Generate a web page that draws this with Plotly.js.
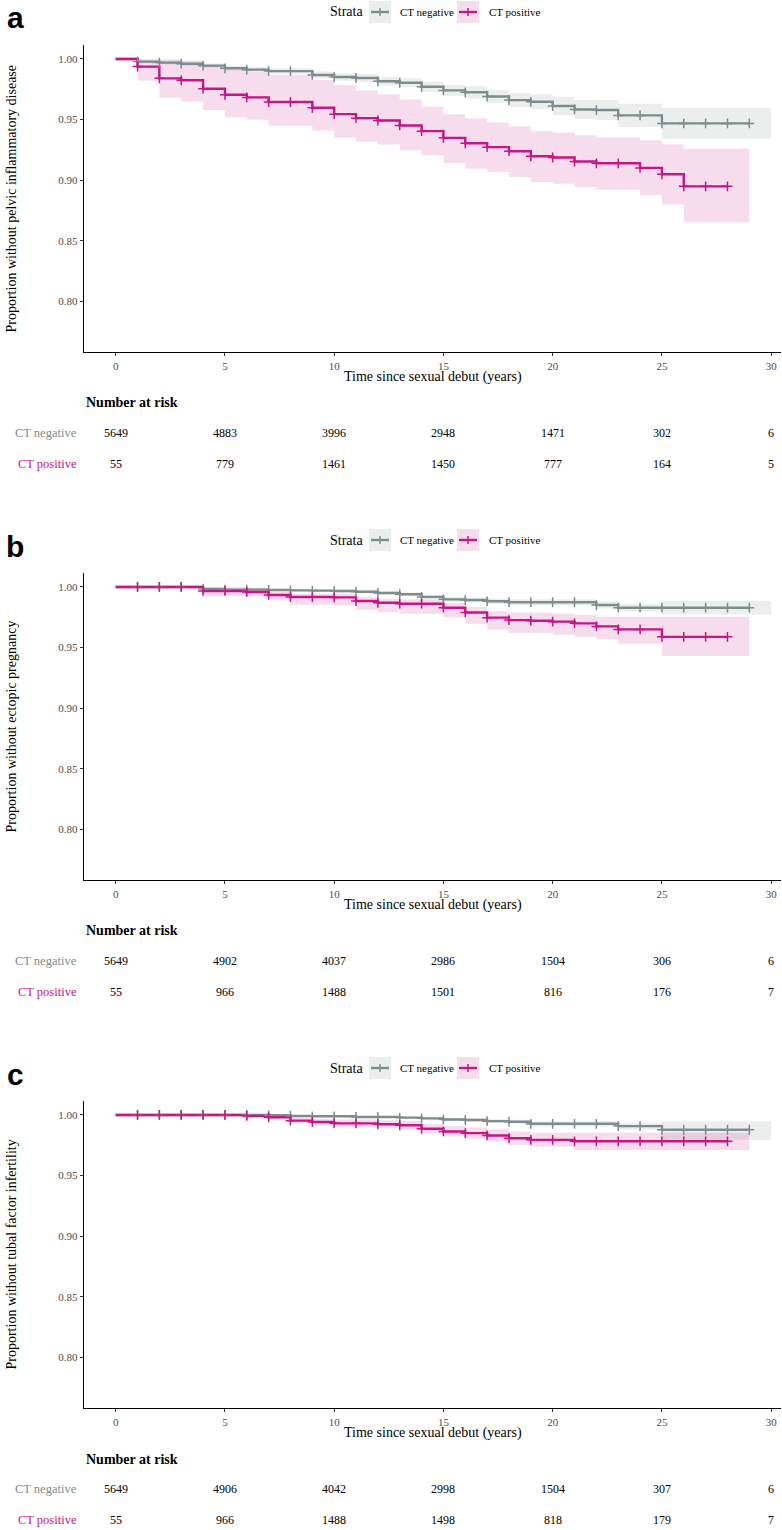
<!DOCTYPE html>
<html><head><meta charset="utf-8">
<script src="https://cdn.plot.ly/plotly-3.0.1.min.js"></script>
<style>body{margin:0;padding:0;background:#fff}#chart{width:782px;height:1530px}</style>
</head><body><div id="chart"></div>
<script>
// ---------- DATA ----------
const years = [0,1,2,3,4,5,6,7,8,9,10,11,12,13,14,15,16,17,18,19,20,21,22,23,24,25,26,27,28,29];
const negRibbonEnd = 30;
const posRibbonEnd = 29;

// Panel a: pelvic inflammatory disease
const aNegSurv  = [1,.9978,.997,.9961,.9945,.9923,.9912,.990,.990,.9868,.9851,.9843,.9816,.9804,.9771,.9741,.9725,.969,.9661,.9647,.9612,.9584,.9579,.9535,.9535,.9469,.9469,.9469,.9469,.9469];
const aNegLower = [1,.9965,.9955,.9945,.9928,.9903,.989,.9876,.9876,.984,.9821,.981,.978,.9766,.973,.9695,.9675,.9635,.9603,.9585,.9537,.9505,.9496,.944,.944,.9345,.9345,.9345,.9345,.9345];
const aNegUpper = [1,.999,.9985,.9977,.9962,.9943,.9934,.9924,.9924,.9896,.9881,.9876,.9852,.9842,.9812,.9787,.9775,.9745,.972,.971,.9687,.9663,.9662,.963,.963,.9593,.9593,.9593,.9593,.9593];
const aPosSurv  = [1,.9937,.984,.9824,.9755,.9705,.9683,.9645,.9645,.9598,.9545,.9512,.9493,.9452,.9405,.935,.9305,.9273,.924,.9198,.9188,.9155,.914,.914,.9102,.905,.895,.895,.895];
const aPosLower = [1,.982,.968,.965,.958,.952,.950,.945,.945,.941,.935,.9317,.9295,.9248,.9207,.9143,.9096,.9069,.9027,.8986,.8972,.8945,.8923,.8923,.8876,.880,.8655,.8655,.8655];
const aPosUpper = [1,.9997,.9997,.9985,.995,.991,.989,.987,.987,.9826,.9785,.974,.971,.9665,.9606,.9545,.951,.9477,.9446,.9405,.9394,.9372,.9352,.9352,.933,.9298,.9262,.9262,.9262];

// Panel b: ectopic pregnancy
const bNegSurv  = [1,1,1,1,.9983,.9978,.9978,.9975,.9972,.997,.9967,.9961,.995,.994,.9918,.9898,.9892,.9882,.9874,.9874,.9874,.9874,.9851,.9829,.9829,.9829,.9829,.9829,.9829,.9829];
const bNegLower = [1,1,1,1,.9975,.9969,.9969,.9965,.9962,.9959,.9955,.9947,.9935,.9924,.99,.9878,.9871,.9859,.985,.985,.985,.9849,.9822,.9797,.9797,.9774,.9774,.9774,.9774,.9774];
const bNegUpper = [1,1,1,1,.9991,.9987,.9987,.9985,.9982,.9981,.9979,.9975,.9965,.9956,.9936,.9918,.9913,.9905,.9898,.9898,.9898,.9899,.988,.986,.986,.9887,.9887,.9887,.9887,.9887];
const bPosSurv  = [1,1,1,1,.9967,.9967,.9959,.9934,.9917,.9917,.9914,.9884,.987,.9862,.9862,.9829,.979,.9747,.9727,.9722,.9714,.970,.9675,.965,.965,.9589,.9589,.9589,.9589];
const bPosLower = [1,1,1,1,.9928,.9928,.992,.989,.9854,.9854,.985,.9813,.9793,.978,.978,.975,.9697,.965,.962,.962,.9607,.959,.957,.9532,.9532,.9432,.9432,.9432,.9432];
const bPosUpper = [1,1,1,1,.9997,.9997,.9993,.9959,.9945,.9945,.9943,.9917,.9903,.9898,.9898,.9868,.9835,.980,.979,.979,.978,.9768,.9755,.9755,.9755,.9755,.9755,.9755,.9755];

// Panel c: tubal factor infertility
const cNegSurv  = [1,1,1,1,1,1,1,.9997,.9992,.9989,.9989,.9983,.9983,.9978,.9972,.9962,.9958,.9949,.9944,.9927,.9927,.9927,.9927,.9908,.9908,.9878,.9878,.9878,.9878,.9878];
const cNegLower = [1,1,1,1,1,1,1,.9992,.9985,.9981,.9981,.9974,.9974,.9968,.9961,.9949,.9944,.9933,.9927,.9905,.9905,.9905,.9904,.988,.988,.9795,.9795,.9795,.9795,.9795];
const cNegUpper = [1,1,1,1,1,1,1,1,.9998,.9996,.9996,.9992,.9992,.9988,.9983,.9975,.9972,.9965,.9961,.9949,.9949,.9949,.995,.9936,.9936,.9949,.9949,.9949,.9949,.9949];
const cPosSurv  = [1,1,1,1,1,1,.9992,.9981,.9953,.9942,.9931,.9931,.9923,.9915,.9886,.9864,.985,.9831,.9808,.9795,.9795,.9783,.9783,.9783,.9783,.9783,.9783,.9783,.9783];
const cPosLower = [1,1,1,1,1,1,.9985,.9965,.993,.9915,.990,.990,.989,.9883,.9848,.9822,.9803,.978,.9753,.9737,.9737,.9712,.9712,.9712,.9712,.9712,.9712,.9712,.9712];
const cPosUpper = [1,1,1,1,1,1,1,.9997,.9976,.9969,.9962,.9962,.9956,.9951,.9926,.9908,.9897,.9882,.9863,.9853,.9853,.9854,.9854,.9854,.9854,.9854,.9854,.9854,.9854];

// Number at risk
const riskTimes = [0,5,10,15,20,25,30];
const aNegRisk = [5649,4883,3996,2948,1471,302,6];
const aPosRisk = [55,779,1461,1450,777,164,5];
const bNegRisk = [5649,4902,4037,2986,1504,306,6];
const bPosRisk = [55,966,1488,1501,816,176,7];
const cNegRisk = [5649,4906,4042,2998,1504,307,6];
const cPosRisk = [55,966,1488,1498,818,179,7];

const strataNames = ['CT negative','CT positive'];
const panelLetters = ['a','b','c'];
const yTitles = ['Proportion without pelvic inflammatory disease','Proportion without ectopic pregnancy','Proportion without tubal factor infertility'];
const xTitle = 'Time since sexual debut (years)';
const riskTitle = 'Number at risk';
const legendTitle = 'Strata';
const yTickVals = [0.80,0.85,0.90,0.95,1.00];
const xTickVals = [0,5,10,15,20,25,30];

// ---------- STYLE ----------
const W = 782, H = 1530;
const GRAY = '#7F8C8D', PINK = '#C71585';
const GRAY_F = 'rgba(127,140,141,0.15)', PINK_F = 'rgba(199,21,133,0.15)';
const SERIF = '"Liberation Serif", "Times New Roman", serif';
const fx = p => p / W;
const fy = p => 1 - p / H;

const panels = [
  {neg:[aNegSurv,aNegLower,aNegUpper], pos:[aPosSurv,aPosLower,aPosUpper], risk:[aNegRisk,aPosRisk]},
  {neg:[bNegSurv,bNegLower,bNegUpper], pos:[bPosSurv,bPosLower,bPosUpper], risk:[bNegRisk,bPosRisk]},
  {neg:[cNegSurv,cNegLower,cNegUpper], pos:[cPosSurv,cPosLower,cPosUpper], risk:[cNegRisk,cPosRisk]}
];
const OFF = 528;
const PLOT_TOP = 45, PLOT_BOT = 352, PLOT_L = 84, PLOT_R = 781;

const traces = [];
const annotations = [];
const shapes = [];
const layout = {
  width: W, height: H,
  margin: {l:0, r:0, t:0, b:0},
  paper_bgcolor: '#fff', plot_bgcolor: '#fff',
  showlegend: false,
  font: {family: SERIF, color: '#000'}
};

function ribbonX(n, end) { return years.slice(0, n).concat([end]); }
function ext(arr) { return arr.concat([arr[arr.length-1]]); }

panels.forEach((p, i) => {
  const sfx = i === 0 ? '' : String(i+1);
  const xa = 'x' + sfx, ya = 'y' + sfx;
  const off = i * OFF;
  layout['xaxis' + sfx] = {
    domain: [fx(PLOT_L), fx(PLOT_R)], anchor: ya,
    range: [-1.45, 30.45], tickvals: xTickVals, ticks: 'outside', ticklen: 3, tickwidth: 1,
    tickcolor: '#333', showline: true, linecolor: '#000', linewidth: 1.4, showgrid: false, zeroline: false,
    tickfont: {family: SERIF, size: 11, color: '#4d4d4d'}, fixedrange: true
  };
  layout['yaxis' + sfx] = {
    domain: [fy(off + PLOT_BOT), fy(off + PLOT_TOP)], anchor: xa,
    range: [0.7585, 1.0115], tickvals: yTickVals, tickformat: '.2f', ticks: 'outside', ticklen: 3, tickwidth: 1,
    tickcolor: '#333', showline: true, linecolor: '#000', linewidth: 1.4, showgrid: false, zeroline: false,
    tickfont: {family: SERIF, size: 11, color: '#4d4d4d'}, fixedrange: true
  };
  const series = [[p.neg, GRAY, GRAY_F, negRibbonEnd], [p.pos, PINK, PINK_F, posRibbonEnd]];
  // ribbons
  series.forEach(([d, col, fcol, end]) => {
    const n = d[0].length;
    traces.push({x: ribbonX(n, end), y: ext(d[2]), xaxis: xa, yaxis: ya, mode: 'lines',
      line: {width: 0, shape: 'hv', color: fcol}, hoverinfo: 'skip'});
    traces.push({x: ribbonX(n, end), y: ext(d[1]), xaxis: xa, yaxis: ya, mode: 'lines', fill: 'tonexty',
      fillcolor: fcol, line: {width: 0, shape: 'hv', color: fcol}, hoverinfo: 'skip'});
  });
  // lines
  series.forEach(([d, col]) => {
    const n = d[0].length;
    traces.push({x: years.slice(0, n), y: d[0], xaxis: xa, yaxis: ya, mode: 'lines',
      line: {width: 2.4, shape: 'hv', color: col}});
  });
  // censor marks
  series.forEach(([d, col]) => {
    const n = d[0].length;
    traces.push({x: years.slice(1, n), y: d[0].slice(1), xaxis: xa, yaxis: ya, mode: 'markers',
      marker: {symbol: 'cross-thin', size: 7, color: col, line: {width: 1.5, color: col}}});
  });
  // panel letter
  annotations.push({xref: 'paper', yref: 'paper', x: fx(15), y: fy(off + 18), text: '<b>' + panelLetters[i] + '</b>',
    showarrow: false, xanchor: 'center', yanchor: 'middle',
    font: {family: '"Liberation Sans", Arial, sans-serif', size: 30, color: '#000'}});
  // y title
  annotations.push({xref: 'paper', yref: 'paper', x: fx(11), y: fy(off + (PLOT_TOP + PLOT_BOT) / 2), text: yTitles[i],
    textangle: -90, showarrow: false, xanchor: 'center', yanchor: 'middle', font: {family: SERIF, size: 14, color: '#000'}});
  // x title
  annotations.push({xref: 'paper', yref: 'paper', x: fx((PLOT_L + PLOT_R) / 2), y: fy(off + 377), text: xTitle,
    showarrow: false, xanchor: 'center', yanchor: 'middle', font: {family: SERIF, size: 14, color: '#000'}});
  // legend
  const ly = off + 12;
  annotations.push({xref: 'paper', yref: 'paper', x: fx(346), y: fy(ly), text: legendTitle, showarrow: false,
    xanchor: 'center', yanchor: 'middle', font: {family: SERIF, size: 14, color: '#000'}});
  [[369, GRAY, GRAY_F, 398], [457, PINK, PINK_F, 487]].forEach(([bx, col, fcol, tx], k) => {
    shapes.push({type: 'rect', xref: 'paper', yref: 'paper', x0: fx(bx), x1: fx(bx + 22), y0: fy(ly + 11), y1: fy(ly - 11),
      fillcolor: fcol, line: {width: 0}});
    shapes.push({type: 'line', xref: 'paper', yref: 'paper', x0: fx(bx + 2), x1: fx(bx + 20), y0: fy(ly), y1: fy(ly),
      line: {color: col, width: 2.4}});
    shapes.push({type: 'line', xref: 'paper', yref: 'paper', x0: fx(bx + 11), x1: fx(bx + 11), y0: fy(ly - 4), y1: fy(ly + 4),
      line: {color: col, width: 1.5}});
    annotations.push({xref: 'paper', yref: 'paper', x: fx(tx), y: fy(ly), text: strataNames[k], showarrow: false,
      xanchor: 'left', yanchor: 'middle', font: {family: SERIF, size: 11, color: '#000'}});
  });
  // risk table
  annotations.push({xref: 'paper', yref: 'paper', x: fx(84), y: fy(off + 403), text: '<b>' + riskTitle + '</b>',
    showarrow: false, xanchor: 'left', yanchor: 'middle', font: {family: SERIF, size: 14, color: '#000'}});
  [[433, GRAY], [464, PINK]].forEach(([ry, col], k) => {
    annotations.push({xref: 'paper', yref: 'paper', x: fx(79), y: fy(off + ry), text: strataNames[k], showarrow: false,
      xanchor: 'right', yanchor: 'middle', font: {family: SERIF, size: 12.5, color: col}});
    riskTimes.forEach((t, j) => {
      annotations.push({xref: xa, yref: 'paper', x: t, y: fy(off + ry), text: String(p.risk[k][j]), showarrow: false,
        xanchor: 'center', yanchor: 'middle', font: {family: SERIF, size: 12, color: '#000'}});
    });
  });
});

layout.annotations = annotations;
layout.shapes = shapes;
Plotly.newPlot('chart', traces, layout, {staticPlot: true, displayModeBar: false});
</script>
</body></html>
